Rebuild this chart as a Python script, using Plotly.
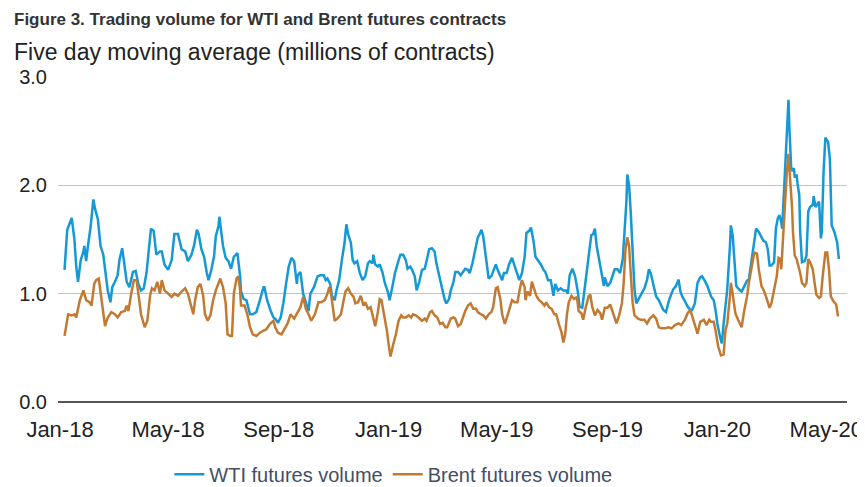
import pandas as pd
import plotly.graph_objects as go

# day offsets from 1 Jan 2018, values in millions of contracts (5-day MA)
wti_days = [5, 8, 13, 16, 18, 20, 23, 26, 27, 29, 31, 34, 37, 39, 42, 45, 48, 50, 53, 56,
            58, 61, 64, 66, 69, 71, 74, 77, 81, 84, 87, 90, 93, 96, 99, 101, 104, 107, 111, 113,
            116, 120, 124, 127, 131, 135, 139, 142,
            146, 149, 152, 154, 157, 160, 163, 165, 168, 171, 173, 176, 177, 179, 181, 184, 187, 190, 193, 197,
            200, 201, 204, 207, 211, 214, 218, 222, 226, 227, 230, 234, 237, 239, 242, 245, 248, 251, 254, 257,
            260, 263, 264, 267, 270, 273, 276, 278, 282, 286, 289,
            293, 295, 297, 300, 302, 305, 307, 310, 313, 316, 318, 320, 323, 325, 327, 330, 333, 336, 339, 342,
            344, 347, 348, 350, 353, 355, 358, 361, 364, 366, 369, 372, 375, 378, 381, 384, 386, 389, 391, 394,
            396, 399, 402, 405, 407, 410, 413, 416, 418, 421, 424, 427, 429, 432,
            434, 437, 439, 442, 445, 448, 450, 453, 455, 458, 461, 464, 466, 468, 470, 472, 474, 476, 479, 481,
            484, 486, 489, 491, 493, 496, 499, 502, 504, 507, 510, 513, 516, 518, 521, 523, 526, 528, 531, 534,
            537, 539, 542, 545, 548, 550, 553, 556, 559, 562, 564, 566, 569, 572, 575,
            577, 580, 582, 585, 588, 590, 592, 594, 596, 598, 600, 602, 604, 605, 608, 611, 613, 616, 619, 622,
            625, 627, 629, 630, 632, 634, 636, 638, 640, 643, 646, 649, 652, 654, 656, 659, 662, 665, 667, 670,
            673, 676, 679, 681, 684, 687, 689, 691, 694, 697, 700, 702, 705, 708, 711, 713, 716, 719,
            723, 726, 728, 730, 733, 735, 737, 739, 741, 744, 745, 747, 749, 751, 754, 757, 760, 763, 765, 767,
            770, 773, 776, 779, 781, 784, 786, 788, 790, 793, 795, 797, 799, 801, 802, 804, 806, 807, 809, 810,
            812, 813, 815, 816, 818, 819, 821, 822, 824, 827, 829, 831, 833, 836, 837, 839, 841, 843, 845, 846,
            848, 850, 853, 855, 857, 860, 863, 865]
wti_vol = [1.22, 1.59, 1.70, 1.50, 1.25, 1.11, 1.31, 1.39, 1.44, 1.30, 1.44, 1.62, 1.87, 1.78, 1.69, 1.44, 1.36, 1.22, 1.03, 0.92,
           1.06, 1.11, 1.17, 1.31, 1.42, 1.30, 1.11, 1.06, 1.20, 1.21, 1.09, 1.03, 1.05, 1.19, 1.41, 1.60, 1.58, 1.36, 1.39, 1.39,
           1.27, 1.22, 1.31, 1.55, 1.55, 1.41, 1.39, 1.30,
           1.36, 1.45, 1.59, 1.55, 1.41, 1.34, 1.19, 1.125, 1.22, 1.34, 1.53, 1.625, 1.71, 1.56, 1.44, 1.33, 1.30, 1.23, 1.34, 1.375,
           1.16, 1.02, 0.95, 0.94, 0.81, 0.81, 0.83, 0.94, 1.06, 1.06, 0.94, 0.84, 0.78, 0.77, 0.73, 0.78, 0.91, 1.09, 1.25, 1.33,
           1.30, 1.09, 1.17, 1.20, 1.00, 0.92, 0.84, 1.00, 1.06, 1.16, 1.17,
           1.17, 1.125, 1.14, 1.09, 0.98, 0.94, 1.03, 1.125, 1.31, 1.47, 1.64, 1.55, 1.47, 1.31, 1.28, 1.30, 1.19, 1.125, 1.16, 1.28,
           1.30, 1.28, 1.36, 1.27, 1.25, 1.27, 1.20, 1.09, 1.02, 0.94, 1.06, 1.19, 1.28, 1.36, 1.36, 1.31, 1.23, 1.25, 1.22, 1.16,
           1.03, 1.11, 1.22, 1.23, 1.30, 1.41, 1.42, 1.39, 1.28, 1.17, 1.06, 0.95, 0.91, 0.95,
           1.03, 1.11, 1.20, 1.20, 1.17, 1.20, 1.23, 1.22, 1.19, 1.28, 1.39, 1.52, 1.55, 1.59, 1.53, 1.41, 1.31, 1.14, 1.16, 1.20,
           1.27, 1.22, 1.16, 1.125, 1.19, 1.19, 1.28, 1.33, 1.28, 1.19, 1.125, 1.19, 1.34, 1.56, 1.58, 1.61, 1.48, 1.34, 1.31, 1.27,
           1.22, 1.20, 1.125, 1.125, 0.98, 1.09, 1.03, 1.05, 1.03, 1.03, 1.00, 1.17, 1.23, 1.16, 1.02,
           0.88, 0.87, 1.00, 1.225, 1.44, 1.54, 1.55, 1.60, 1.44, 1.35, 1.26, 1.19, 1.07, 1.15, 1.07, 1.10, 1.16, 1.225, 1.225, 1.19,
           1.32, 1.57, 1.85, 2.10, 2.00, 1.725, 1.35, 1.04, 0.91, 0.96, 1.00, 1.05, 1.13, 1.225, 1.19, 1.07, 0.975, 0.94, 0.90, 0.85,
           0.83, 0.93, 1.00, 1.04, 1.07, 1.13, 1.02, 0.975, 0.93, 0.88, 0.85, 0.85, 0.91, 1.10, 1.15, 1.16, 1.12, 1.07,
           0.975, 0.94, 0.85, 0.725, 0.60, 0.54, 0.725, 0.91, 1.04, 1.44, 1.63, 1.54, 1.26, 1.07, 1.04, 1.02, 1.07, 1.12, 1.13, 1.24,
           1.41, 1.60, 1.57, 1.52, 1.49, 1.475, 1.41, 1.26, 1.26, 1.29, 1.60, 1.69, 1.725, 1.66, 1.60, 1.94, 2.29, 2.54, 2.79, 2.54,
           2.16, 2.13, 2.16, 2.07, 2.10, 2.02, 1.91, 1.57, 1.29, 1.30, 1.35, 1.76, 1.80, 1.82, 1.90, 1.80, 1.83, 1.85, 1.51, 1.57,
           2.13, 2.44, 2.40, 2.24, 1.63, 1.57, 1.475, 1.32]

brent_days = [5, 9, 13, 16, 18, 22, 26, 29, 33, 35, 38, 40, 43, 45, 48, 50, 53, 57, 61, 64,
              68, 72, 74, 76, 79, 82, 85, 87, 90, 94, 97, 100, 102, 105, 108, 111, 113, 116, 120, 124,
              127, 131, 135, 139, 142,
              145, 148, 150, 153, 156, 159, 161, 164, 167, 170, 173, 176, 178, 181, 184, 186, 189, 191, 193, 196,
              198, 200, 201, 205, 208, 211, 214, 218, 222, 226, 229, 233, 237, 239, 242, 246, 250, 253, 256, 260,
              264, 267, 270, 273, 276, 279, 283, 287,
              290, 294, 297, 299, 301, 303, 305, 308, 312, 315, 317, 320, 323, 326, 328, 331, 334, 337, 339, 342,
              345, 348, 350, 353, 355, 357, 360, 363, 365, 367, 370, 373, 376, 379, 381, 384, 387, 390, 392, 395,
              398, 402, 405, 407, 411, 413, 416, 419, 422, 425, 428, 430,
              434, 437, 439, 442, 445, 448, 450, 453, 456, 459, 462, 464, 467, 470, 473, 476, 479, 481, 484, 486,
              489, 491, 494, 497, 500, 502, 505, 508, 511, 513, 516, 517, 519, 522, 524, 527, 529, 532, 535, 538,
              540, 543, 546, 549, 551, 554, 557, 559, 561, 563, 565, 568, 571, 574, 576,
              579, 581, 584, 587, 589, 591, 594, 597, 600, 602, 605, 608, 611, 613, 616, 618, 621, 624, 626, 628,
              630, 632, 634, 636, 638, 642, 645, 649, 652, 655, 659, 662, 665, 668, 672, 676, 679, 683, 687, 690,
              694, 697, 700, 702, 705, 708, 711, 715, 718, 721,
              723, 726, 728, 731, 734, 737, 739, 741, 744, 745, 747, 750, 753, 755, 757, 760, 763, 765, 768, 771,
              774, 776, 779, 781, 784, 786, 788, 790, 793, 796, 798, 800, 801, 803, 805, 807, 809, 811, 813, 814,
              816, 818, 820, 822, 824, 827, 829, 831, 833, 836, 838, 840, 843, 845, 847, 850, 852, 854, 856, 859,
              862, 864]
brent_vol = [0.61, 0.81, 0.80, 0.81, 0.78, 0.94, 1.03, 0.94, 0.92, 0.89, 1.09, 1.125, 1.14, 1.00, 0.81, 0.70, 0.78, 0.83, 0.81, 0.78,
             0.83, 0.84, 0.89, 0.84, 1.00, 1.125, 1.125, 0.98, 0.81, 0.69, 0.75, 0.98, 1.05, 1.03, 1.11, 1.00, 1.125, 1.03, 1.00, 0.97,
             1.00, 0.98, 1.02, 1.05, 1.00,
             0.91, 0.81, 0.94, 1.06, 1.09, 0.98, 0.81, 0.75, 0.80, 0.94, 1.03, 1.09, 1.14, 1.06, 0.91, 0.625, 0.61, 0.61, 1.00, 1.14,
             1.16, 1.03, 0.89, 0.89, 0.81, 0.69, 0.625, 0.61, 0.64, 0.66, 0.67, 0.72, 0.75, 0.69, 0.64, 0.625, 0.69, 0.73, 0.81, 0.77,
             0.83, 0.875, 0.97, 0.86, 0.81, 0.75, 0.81, 0.92,
             0.92, 0.94, 1.00, 1.06, 1.00, 0.875, 0.75, 0.77, 0.81, 0.94, 1.02, 1.05, 1.00, 0.97, 0.91, 0.92, 0.98, 0.89, 0.92, 0.86,
             0.875, 0.77, 0.70, 0.83, 0.95, 0.94, 0.81, 0.66, 0.53, 0.42, 0.53, 0.625, 0.75, 0.80, 0.78, 0.78, 0.80, 0.78, 0.81, 0.80,
             0.78, 0.75, 0.77, 0.75, 0.83, 0.84, 0.80, 0.78, 0.72, 0.73, 0.69, 0.69,
             0.77, 0.78, 0.77, 0.70, 0.72, 0.80, 0.84, 0.89, 0.91, 0.86, 0.86, 0.83, 0.81, 0.80, 0.77, 0.81, 0.83, 0.875, 1.05, 1.06,
             0.95, 0.81, 0.72, 0.80, 0.89, 0.94, 0.92, 0.92, 1.06, 1.125, 1.06, 0.94, 1.02, 0.98, 1.11, 1.03, 0.98, 0.94, 0.92, 0.89,
             0.92, 0.875, 0.86, 0.81, 0.81, 0.72, 0.64, 0.55, 0.625, 0.81, 0.92, 0.98, 0.95, 0.97, 0.84,
             0.82, 0.76, 0.88, 0.975, 0.99, 0.88, 0.80, 0.85, 0.82, 0.76, 0.87, 0.87, 0.90, 0.85, 0.77, 0.725, 0.80, 0.91, 1.10, 1.41,
             1.52, 1.44, 1.16, 0.91, 0.80, 0.77, 0.76, 0.76, 0.725, 0.77, 0.80, 0.77, 0.69, 0.68, 0.68, 0.69, 0.68, 0.71, 0.725, 0.71,
             0.76, 0.82, 0.85, 0.80, 0.725, 0.63, 0.74, 0.76, 0.71, 0.76,
             0.74, 0.74, 0.66, 0.51, 0.43, 0.44, 0.66, 0.725, 0.975, 1.10, 1.00, 0.82, 0.76, 0.725, 0.69, 0.85, 0.975, 1.10, 1.225, 1.38,
             1.37, 1.225, 1.07, 1.04, 0.975, 0.91, 0.87, 0.91, 1.04, 1.16, 1.33, 1.32, 1.225, 1.54, 1.88, 2.10, 2.29, 2.07, 1.79, 1.57,
             1.35, 1.32, 1.26, 1.19, 1.10, 1.07, 1.10, 1.32, 1.29, 1.225, 1.10, 0.99, 0.96, 0.975, 1.16, 1.38, 1.38, 1.225, 0.975, 0.93,
             0.90, 0.79]

tick_dates = ["2018-01-01", "2018-05-01", "2018-09-01", "2019-01-01",
              "2019-05-01", "2019-09-01", "2020-01-01", "2020-05-01"]
tick_labels = ["Jan-18", "May-18", "Sep-18", "Jan-19", "May-19", "Sep-19", "Jan-20", "May-20"]

START = pd.Timestamp("2018-01-01")


def to_dates(days):
    return START + pd.to_timedelta(days, unit="D")


fig = go.Figure()
fig.add_trace(go.Scatter(x=to_dates(wti_days), y=wti_vol, mode="lines",
                         name="WTI futures volume",
                         line=dict(color="#1499d6", width=2.5)))
fig.add_trace(go.Scatter(x=to_dates(brent_days), y=brent_vol, mode="lines",
                         name="Brent futures volume",
                         line=dict(color="#c27a33", width=2.5)))

# the page body adds an 8px margin, so the figure is 8px smaller each way
fig.update_layout(
    width=857, height=479,
    margin=dict(l=50, r=18, t=69, b=85, autoexpand=False),
    paper_bgcolor="white", plot_bgcolor="white",
    font=dict(family="Liberation Sans, Arial, sans-serif", size=20, color="#222222"),
    showlegend=True,
    legend=dict(orientation="h", x=0.425, xanchor="center", y=-0.222, yanchor="middle",
                font=dict(size=20, color="#3f4f66"), bgcolor="rgba(0,0,0,0)",
                borderwidth=0, tracegroupgap=0),
    annotations=[
        dict(text="<b>Figure 3. Trading volume for WTI and Brent futures contracts</b>",
             xref="paper", yref="paper", x=-0.058, y=1.178, xanchor="left", yanchor="middle",
             showarrow=False, font=dict(size=17, color="#333333")),
        dict(text="Five day moving average (millions of contracts)",
             xref="paper", yref="paper", x=-0.058, y=1.078, xanchor="left", yanchor="middle",
             showarrow=False, font=dict(size=23, color="#222222")),
    ],
)
fig.update_xaxes(type="date", range=["2017-12-29 18:00", "2020-05-24"],
                 tickvals=tick_dates, ticktext=tick_labels, tickfont=dict(size=22),
                 showgrid=False, zeroline=False, showline=False, ticks="",
                 ticklabelstandoff=12)
fig.update_yaxes(range=[0, 3], tickvals=[0, 1, 2, 3], tickformat=".1f",
                 showgrid=True, gridcolor="#c4c4c4", gridwidth=1,
                 zeroline=True, zerolinecolor="#555555", zerolinewidth=1.5,
                 showline=False, ticks="", ticklabelstandoff=10)

fig.write_html("out.html")
